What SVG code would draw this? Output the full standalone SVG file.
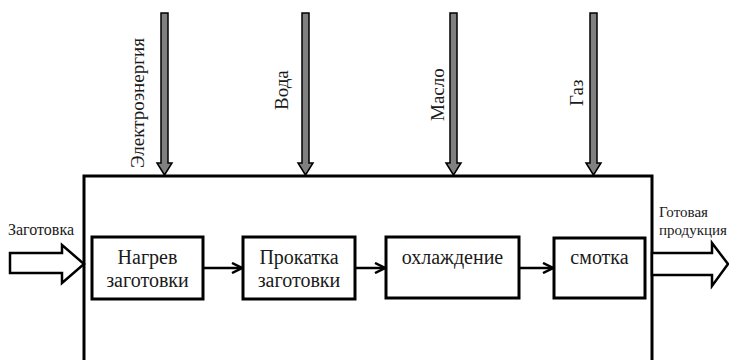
<svg xmlns="http://www.w3.org/2000/svg" width="729" height="360" viewBox="0 0 729 360">
<defs>
<style>
text{font-family:'Liberation Serif','DejaVu Serif','Times New Roman',serif;fill:#1a1a1a}
.box{fill:#fff;stroke:#000;stroke-width:3}
.bt{font-size:20px;text-anchor:middle}
.vt{font-size:19px}
.sm{font-size:16px}
.sm2{font-size:15px}
.conn{stroke:#000;stroke-width:2.5;fill:none}
.shaft{fill:#808080;stroke:#000;stroke-width:1.5}
.hollow{fill:#fff;stroke:#000;stroke-width:2.5;stroke-linejoin:miter}
</style>
<marker id="ah" viewBox="0 0 10 10" refX="9" refY="5" markerWidth="5" markerHeight="5" orient="auto" markerUnits="strokeWidth">
<path d="M1,1 L9,5 L1,9" fill="none" stroke="#000" stroke-width="2"/>
</marker>
</defs>
<g id="system">
<path d="M84,362 L84,176 L652,176 L652,362" fill="none" stroke="#000" stroke-width="3"/>
</g>
<g id="connectors">
<polygon class="hollow" points="10,253 62,253 62,245 84,264 62,283 62,273 10,273"/>
<polygon class="hollow" points="652,253 712,253 712,243 728,264 712,286 712,275 652,275"/>
<polygon class="shaft" points="161,13 168,13 168,163 172,163 164.5,175 157,163 161,163"/>
<polygon class="shaft" points="302,13 309,13 309,163 313,163 305.5,175 298,163 302,163"/>
<polygon class="shaft" points="450,13 457,13 457,163 461,163 453.5,175 446,163 450,163"/>
<polygon class="shaft" points="590,13 597,13 597,163 601,163 593.5,175 586,163 590,163"/>
<line class="conn" x1="204" y1="268" x2="242" y2="268" marker-end="url(#ah)"/>
<line class="conn" x1="356" y1="268" x2="385" y2="268" marker-end="url(#ah)"/>
<line class="conn" x1="520" y1="268" x2="553" y2="268" marker-end="url(#ah)"/>
</g>
<g id="label-in"><text class="sm" x="8" y="235">Заготовка</text></g>
<g id="label-out"><text class="sm2" x="659" y="217">Готовая</text><text class="sm2" x="659" y="235">продукция</text></g>
<g id="in-electro"><text class="vt" transform="translate(144,168) rotate(-90)">Электроэнергия</text></g>
<g id="in-water"><text class="vt" transform="translate(288,110) rotate(-90)">Вода</text></g>
<g id="in-oil"><text class="vt" transform="translate(444,121) rotate(-90)">Масло</text></g>
<g id="in-gas"><text class="vt" transform="translate(583,106) rotate(-90)">Газ</text></g>
<g id="n1"><rect class="box" x="92" y="237" width="111" height="62"/><text class="bt" x="147.5" y="264">Нагрев</text><text class="bt" x="147.5" y="287">заготовки</text></g>
<g id="n2"><rect class="box" x="243" y="237" width="112" height="62"/><text class="bt" x="299" y="264">Прокатка</text><text class="bt" x="299" y="287">заготовки</text></g>
<g id="n3"><rect class="box" x="386" y="237" width="133" height="61"/><text class="bt" x="452.5" y="264">охлаждение</text></g>
<g id="n4"><rect class="box" x="554" y="238" width="91" height="60"/><text class="bt" x="599.5" y="264">смотка</text></g>
</svg>
